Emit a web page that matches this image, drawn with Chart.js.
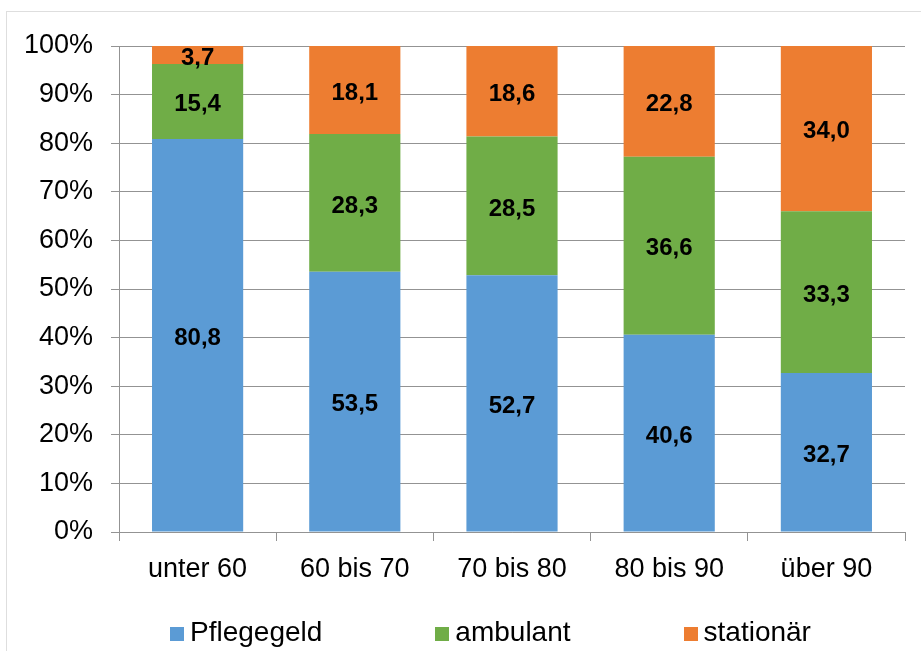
<!DOCTYPE html>
<html>
<head>
<meta charset="utf-8">
<script src="https://cdn.jsdelivr.net/npm/chart.js@4/dist/chart.umd.min.js"></script>
<style>
  html, body { margin: 0; padding: 0; background: #fff; }
  body { width: 921px; height: 651px; position: relative; overflow: hidden; font-family: "Liberation Sans", Arial, sans-serif; }
  #frame { position: absolute; left: 6px; top: 11px; width: 1000px; height: 700px; border: 1px solid #dedede; box-sizing: border-box; }
  #wrap { position: absolute; left: 0; top: 0; width: 921px; height: 651px; }
  #legend { position: absolute; left: 170px; top: 616px; display: flex; align-items: center; font-size: 28px; color: #000; }
  #legend .item { display: flex; align-items: center; margin-right: 113px; }
  #legend .box { width: 14px; height: 14px; margin-right: 6px; margin-top: 4px; }
</style>
</head>
<body>
<div id="frame"></div>
<div id="wrap"><canvas id="myChart"></canvas></div>
<div id="legend"></div>
<script>
// Data
const categories = ["unter 60", "60 bis 70", "70 bis 80", "80 bis 90", "über 90"];
const seriesNames = ["Pflegegeld", "ambulant", "stationär"];
const pflegegeld = [80.8, 53.5, 52.7, 40.6, 32.7];
const ambulant = [15.4, 28.3, 28.5, 36.6, 33.3];
const stationaer = [3.7, 18.1, 18.6, 22.8, 34.0];
const colors = ["#5B9BD5", "#70AD47", "#ED7D31"];
const yTicks = [0, 10, 20, 30, 40, 50, 60, 70, 80, 90, 100];

const raw = [pflegegeld, ambulant, stationaer];
// 100% stacked: scale each column to its total
const totals = categories.map((c, i) => raw.reduce((s, arr) => s + arr[i], 0));

const datasets = raw.map((arr, k) => ({
  label: seriesNames[k],
  data: arr.map((v, i) => v / totals[i] * 100),
  rawValues: arr,
  backgroundColor: colors[k],
  borderWidth: 0,
  barPercentage: 0.58,
  categoryPercentage: 1.0
}));

const gridColor = "#939393";
const fontFamily = '"Liberation Sans", Arial, sans-serif';

// Data labels in the middle of each segment
const segmentLabels = {
  id: "segmentLabels",
  afterDatasetsDraw(chart) {
    const ctx = chart.ctx;
    ctx.save();
    ctx.font = "bold 24px " + fontFamily;
    ctx.fillStyle = "#000";
    ctx.textAlign = "center";
    ctx.textBaseline = "middle";
    chart.data.datasets.forEach((ds, k) => {
      const meta = chart.getDatasetMeta(k);
      meta.data.forEach((el, i) => {
        const txt = ds.rawValues[i].toFixed(1).replace(".", ",");
        ctx.fillText(txt, el.x, (el.y + el.base) / 2 + 3);
      });
    });
    ctx.restore();
  }
};

const ctx = document.getElementById("myChart");

new Chart(ctx, {
  type: "bar",
  data: {
    labels: categories,
    datasets: datasets
  },
  options: {
    responsive: true,
    maintainAspectRatio: false,
    animation: false,
    layout: { padding: { left: 0, right: 16, top: 46, bottom: 44 } },
    plugins: {
      legend: { display: false },
      tooltip: { enabled: false }
    },
    scales: {
      x: {
        stacked: true,
        offset: true,
        grid: { display: true, offset: true, drawOnChartArea: false, color: gridColor, tickLength: 9 },
        border: { display: true, color: gridColor, width: 1 },
        ticks: { color: "#000", font: { family: fontFamily, size: 27 }, padding: 12 },
        afterFit(scale) { scale.height = 75; }
      },
      y: {
        stacked: true,
        min: 0,
        max: 100,
        afterBuildTicks(scale) { scale.ticks = yTicks.map(v => ({ value: v })); },
        grid: { color: gridColor, tickLength: 8 },
        border: { display: true, color: gridColor, width: 1 },
        ticks: {
          color: "#000",
          font: { family: fontFamily, size: 27 },
          padding: 18,
          callback: v => v + "%"
        },
        afterFit(scale) { scale.width = 119; }
      }
    }
  },
  plugins: [segmentLabels]
});

// Legend below the chart
const legend = document.getElementById("legend");
seriesNames.forEach((name, k) => {
  const item = document.createElement("div");
  item.className = "item";
  const box = document.createElement("span");
  box.className = "box";
  box.style.background = colors[k];
  const text = document.createElement("span");
  text.textContent = name;
  item.appendChild(box);
  item.appendChild(text);
  legend.appendChild(item);
});
</script>
</body>
</html>
